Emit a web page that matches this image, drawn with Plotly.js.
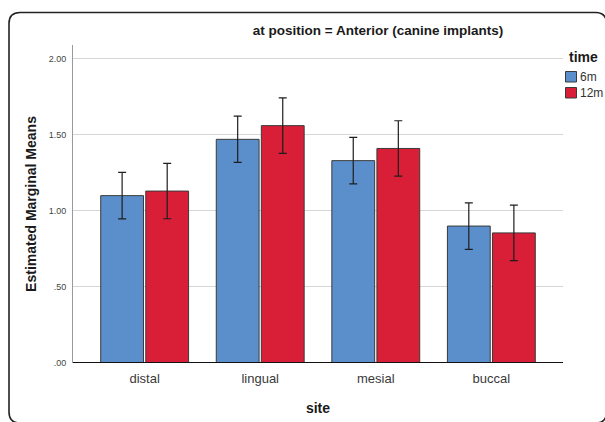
<!DOCTYPE html>
<html>
<head>
<meta charset="utf-8">
<script src="https://cdn.plot.ly/plotly-3.0.1.min.js"></script>
<style>
  html, body { margin: 0; padding: 0; background: #ffffff; }
  #chart { width: 605px; height: 422px; }
</style>
</head>
<body>
<div id="chart"></div>
<script>
// ---- data ----
const sites = ["distal", "lingual", "mesial", "buccal"];
const seriesNames = ["6m", "12m"];
const legendTitle = "time";
const means6m = [1.10, 1.47, 1.33, 0.90];
const err6m = [0.153, 0.152, 0.153, 0.153];
const means12m = [1.13, 1.56, 1.41, 0.855];
const err12m = [0.182, 0.182, 0.182, 0.182];
const yTickVals = [0, 0.5, 1.0, 1.5, 2.0];
const yTickText = [".00", ".50", "1.00", "1.50", "2.00"];

const FONT = "Liberation Sans, Arial, sans-serif";
const colors = ["#5b8fcc", "#d91e37"];

const barLine = { color: "#3a3a3a", width: 1 };
const errStyle = (arr) => ({ type: "data", array: arr, visible: true, color: "#1e1e1e", thickness: 1.2, width: 4 });

const traces = [
  { type: "bar", name: seriesNames[0], x: sites, y: means6m, showlegend: false,
    marker: { color: colors[0], line: barLine }, error_y: errStyle(err6m), hoverinfo: "none" },
  { type: "bar", name: seriesNames[1], x: sites, y: means12m, showlegend: false,
    marker: { color: colors[1], line: barLine }, error_y: errStyle(err12m), hoverinfo: "none" }
];

// plot area in pixels: x 73..563, y 45..363
const L = 73, R = 563, T = 45, B = 363;
const px = (v) => (v - L) / (R - L);
const py = (v) => (B - v) / (B - T);
// rounded frame (right and bottom edges fall just outside the canvas)
const fx0 = px(9), fx1 = px(606.5), fy0 = py(423), fy1 = py(12.5);
const rx = 11 / (R - L), ry = 11 / (B - T);
const framePath =
  `M ${fx0},${fy0 + ry} L ${fx0},${fy1 - ry} Q ${fx0},${fy1} ${fx0 + rx},${fy1} ` +
  `L ${fx1 - rx},${fy1} Q ${fx1},${fy1} ${fx1},${fy1 - ry} ` +
  `L ${fx1},${fy0 + ry} Q ${fx1},${fy0} ${fx1 - rx},${fy0} ` +
  `L ${fx0 + rx},${fy0} Q ${fx0},${fy0} ${fx0},${fy0 + ry} Z`;

// manual legend (swatches + labels)
const legendShapes = [];
const legendAnn = [
  { xref: "paper", yref: "paper", x: px(567), y: py(57), xanchor: "left", yanchor: "middle",
    text: "<b>" + legendTitle + "</b>", showarrow: false,
    font: { family: FONT, size: 14, color: "#1a1a1a" } }
];
seriesNames.forEach((nm, i) => {
  const top = 71.5 + i * 16;
  legendShapes.push({ type: "rect", xref: "paper", yref: "paper",
    x0: px(565.5), x1: px(576.5), y0: py(top + 10.5), y1: py(top),
    fillcolor: colors[i], line: { color: "#3a3a3a", width: 1 }, layer: "above" });
  legendAnn.push({ xref: "paper", yref: "paper", x: px(577.5), y: py(top + 5.5),
    xanchor: "left", yanchor: "middle", text: nm, showarrow: false,
    font: { family: "Liberation Sans Narrow, Liberation Sans, Arial, sans-serif", size: 12, color: "#333333" } });
});

const layout = {
  width: 605, height: 422,
  margin: { l: L, r: 605 - R, t: T, b: 422 - B, pad: 0, autoexpand: false },
  paper_bgcolor: "#ffffff", plot_bgcolor: "#ffffff",
  font: { family: FONT, color: "#333333" },
  showlegend: false,
  barmode: "group",
  bargap: 0.22,
  bargroupgap: 0.05,
  title: {
    text: "<b>at position = Anterior (canine implants)</b>",
    font: { family: FONT, size: 13.5, color: "#1a1a1a" },
    x: px(378), xref: "paper", xanchor: "center",
    y: 1 - 30 / 422, yref: "container", yanchor: "middle"
  },
  xaxis: {
    type: "category",
    range: [-0.62, 3.62],
    automargin: false,
    showgrid: false, zeroline: false,
    showline: false,
    ticks: "",
    tickfont: { family: FONT, size: 13, color: "#3a3a3a" },
    ticklabelstandoff: 6,
    title: { text: "<b>site</b>", font: { family: FONT, size: 14, color: "#1a1a1a" }, standoff: 18 },
    fixedrange: true
  },
  yaxis: {
    range: [0, 2.09],
    automargin: false,
    tickvals: yTickVals, ticktext: yTickText,
    tickfont: { family: FONT, size: 9, color: "#444444" },
    showgrid: true, gridcolor: "#d6d6d6", gridwidth: 1,
    zeroline: false,
    showline: true, linecolor: "#9a9a9a", linewidth: 1,
    ticks: "", ticklabelstandoff: 4,
    title: { text: "<b>Estimated Marginal Means</b>", font: { family: FONT, size: 14, color: "#1a1a1a" }, standoff: 8 },
    fixedrange: true
  },
  annotations: legendAnn,
  shapes: [
    { type: "line", xref: "paper", yref: "y", x0: 0, x1: 1, y0: 0, y1: 0,
      line: { color: "#111111", width: 2.2 }, layer: "above" },
    { type: "path", xref: "paper", yref: "paper", path: framePath,
      line: { color: "#222222", width: 1.6 }, fillcolor: "rgba(0,0,0,0)", layer: "below" }
  ].concat(legendShapes)
};

Plotly.newPlot("chart", traces, layout, { staticPlot: true, displayModeBar: false });
</script>
</body>
</html>
